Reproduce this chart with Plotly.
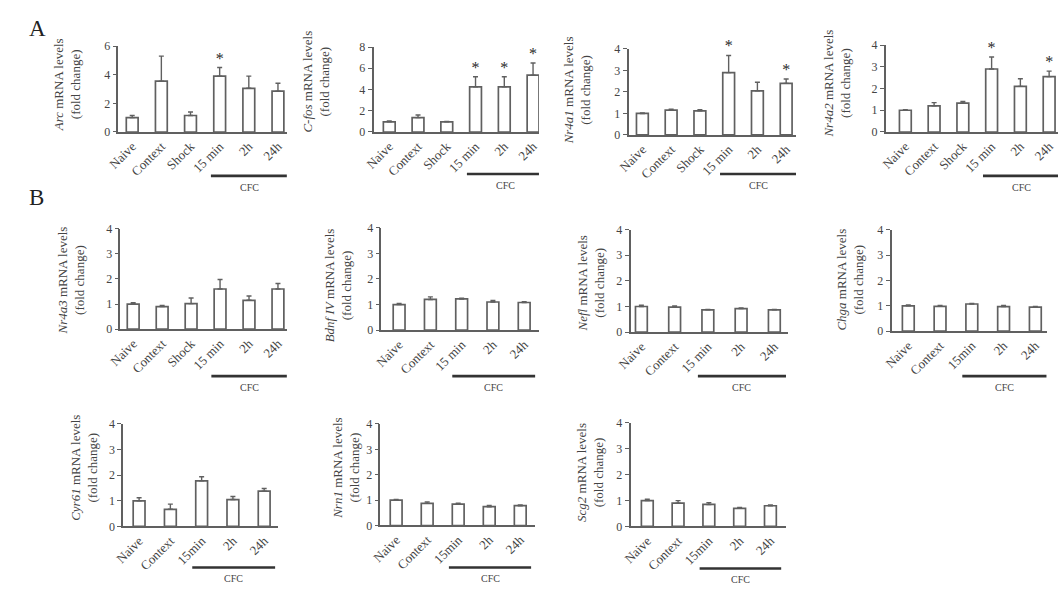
import plotly.graph_objects as go

W, H = 1059, 594

# ---------------- data ----------------
groups_shock = ["Naive", "Context", "Shock", "15 min", "2h", "24h"]
groups_cfc = ["Naive", "Context", "15 min", "2h", "24h"]
groups_cfc2 = ["Naive", "Context", "15min", "2h", "24h"]

genes = ["Arc", "C-fos", "Nr4a1", "Nr4a2", "Nr4a3", "Bdnf IV", "Nefl", "Chga", "Cyr61", "Nrn1", "Scg2"]

arc_mean = [1.0, 3.55, 1.15, 3.9, 3.05, 2.85]
arc_err = [0.15, 1.75, 0.25, 0.6, 0.85, 0.55]
arc_sig = [0, 0, 0, 1, 0, 0]

cfos_mean = [0.95, 1.35, 0.95, 4.25, 4.25, 5.35]
cfos_err = [0.1, 0.25, 0.05, 0.95, 0.95, 1.15]
cfos_sig = [0, 0, 0, 1, 1, 1]

nr4a1_mean = [1.0, 1.15, 1.12, 2.9, 2.05, 2.4]
nr4a1_err = [0.02, 0.05, 0.05, 0.8, 0.4, 0.2]
nr4a1_sig = [0, 0, 0, 1, 0, 1]

nr4a2_mean = [1.0, 1.2, 1.33, 2.9, 2.1, 2.55]
nr4a2_err = [0.03, 0.15, 0.07, 0.55, 0.35, 0.25]
nr4a2_sig = [0, 0, 0, 1, 0, 1]

nr4a3_mean = [1.0, 0.9, 1.02, 1.6, 1.15, 1.6]
nr4a3_err = [0.05, 0.05, 0.22, 0.38, 0.17, 0.22]

bdnf_mean = [1.0, 1.2, 1.22, 1.1, 1.08]
bdnf_err = [0.04, 0.1, 0.03, 0.06, 0.03]

nefl_mean = [1.0, 0.98, 0.87, 0.92, 0.87]
nefl_err = [0.05, 0.04, 0.02, 0.02, 0.02]

chga_mean = [1.0, 0.98, 1.07, 0.97, 0.95]
chga_err = [0.03, 0.03, 0.02, 0.04, 0.02]

cyr61_mean = [1.0, 0.67, 1.78, 1.05, 1.38]
cyr61_err = [0.12, 0.2, 0.16, 0.12, 0.1]

nrn1_mean = [1.0, 0.87, 0.84, 0.74, 0.78]
nrn1_err = [0.03, 0.06, 0.04, 0.05, 0.03]

scg2_mean = [1.0, 0.9, 0.85, 0.7, 0.8]
scg2_err = [0.05, 0.1, 0.07, 0.03, 0.03]

no_sig5 = [0, 0, 0, 0, 0]
no_sig6 = [0, 0, 0, 0, 0, 0]

panels_data = [
    (genes[0], groups_shock, arc_mean, arc_err, arc_sig, 6, 2),
    (genes[1], groups_shock, cfos_mean, cfos_err, cfos_sig, 8, 2),
    (genes[2], groups_shock, nr4a1_mean, nr4a1_err, nr4a1_sig, 4, 1),
    (genes[3], groups_shock, nr4a2_mean, nr4a2_err, nr4a2_sig, 4, 1),
    (genes[4], groups_shock, nr4a3_mean, nr4a3_err, no_sig6, 4, 1),
    (genes[5], groups_cfc, bdnf_mean, bdnf_err, no_sig5, 4, 1),
    (genes[6], groups_cfc, nefl_mean, nefl_err, no_sig5, 4, 1),
    (genes[7], groups_cfc2, chga_mean, chga_err, no_sig5, 4, 1),
    (genes[8], groups_cfc2, cyr61_mean, cyr61_err, no_sig5, 4, 1),
    (genes[9], groups_cfc2, nrn1_mean, nrn1_err, no_sig5, 4, 1),
    (genes[10], groups_cfc2, scg2_mean, scg2_err, no_sig5, 4, 1),
]

# ---------------- geometry (pixels) ----------------
# axis_x, first_bar_x, spacing, end_x, zero_y, top_y, title_x, title_y, cfc_y
geom = [
    (105, 119, 29.6, 276, 128, 40, 53, 80, 173),
    (364, 380, 29.2, 532, 128, 41, 306, 76, 171),
    (623, 637, 29.2, 793, 131, 43, 571, 85, 171),
    (884, 904, 29.2, 1059, 128, 39, 835, 78, 173),
    (107, 120, 29.4, 276, 330, 227, 57, 280, 378),
    (372, 390, 31.75, 532, 331, 226, 328, 285, 378),
    (625, 636, 33.75, 785, 333, 228, 585, 283, 378),
    (890, 907, 32.25, 1048, 332, 228, 848, 279, 378),
    (110, 126, 31.75, 267, 532, 427, 70, 472, 574),
    (371, 387, 31.5, 528, 531, 427, 336, 472, 574),
    (625, 642, 31.25, 783, 532, 426, 584, 477, 575),
]

TXT = "#444444"
LINE = "#606060"
FONT = "Liberation Serif"
BAR_PX = 12

fig = go.Figure()
layout = dict(
    width=W, height=H,
    margin=dict(l=0, r=0, t=0, b=0),
    paper_bgcolor="white", plot_bgcolor="white",
    showlegend=False,
    font=dict(family=FONT, color=TXT),
)
shapes = []
annotations = []

for i, ((gene, cats, mean, err, sig, ymax, dtick), g) in enumerate(zip(panels_data, geom), start=1):
    ax_x, first, sp, end_x, y0, ytop, tx, ty, cfc_y = g
    n = len(cats)
    last = first + (n - 1) * sp
    xr = [-(first - ax_x) / sp, (n - 1) + (end_x - last) / sp]
    xs = list(range(n))
    xa = "x" if i == 1 else f"x{i}"
    ya = "y" if i == 1 else f"y{i}"
    fig.add_trace(go.Bar(
        x=xs, y=mean, xaxis=xa, yaxis=ya,
        width=BAR_PX / sp,
        marker=dict(color="white", line=dict(color=LINE, width=1.7)),
        error_y=dict(type="data", array=err, arrayminus=[0] * n, symmetric=False,
                     color=LINE, thickness=1.4, width=2.5),
        hoverinfo="skip",
    ))
    sx = [x for x, s in zip(xs, sig) if s]
    sy = [m + e for m, e, s in zip(mean, err, sig) if s]
    if sx:
        fig.add_trace(go.Scatter(
            x=sx, y=sy, xaxis=xa, yaxis=ya, mode="text",
            text=["*"] * len(sx), textposition="top center",
            textfont=dict(family=FONT, size=16, color="#2a2a2a"),
            cliponaxis=False, hoverinfo="skip",
        ))
    key = "" if i == 1 else str(i)
    layout[f"xaxis{key}"] = dict(
        domain=[ax_x / W, min(end_x / W, 1.0)], range=xr, anchor=ya,
        tickmode="array", tickvals=xs, ticktext=cats, tickangle=-45,
        tickfont=dict(family=FONT, size=13, color=TXT),
        showline=True, linecolor=LINE, linewidth=1.7, ticks="",
        showgrid=False, zeroline=False, fixedrange=True,
    )
    layout[f"yaxis{key}"] = dict(
        domain=[1 - y0 / H, 1 - ytop / H], range=[0, ymax], anchor=xa,
        dtick=dtick, tick0=0, ticks="outside", ticklen=4, tickcolor=LINE,
        tickwidth=1.4,
        tickfont=dict(family=FONT, size=12, color=TXT),
        showline=True, linecolor=LINE, linewidth=1.7,
        showgrid=False, zeroline=False, fixedrange=True,
    )
    # CFC bar under the conditioned groups
    i15 = cats.index("15 min") if "15 min" in cats else cats.index("15min")
    shapes.append(dict(type="line", xref=xa, yref="paper",
                       x0=i15 - 0.3, x1=(n - 1) + 0.35,
                       y0=1 - cfc_y / H, y1=1 - cfc_y / H,
                       line=dict(color="#333", width=2.6)))
    annotations.append(dict(xref=xa, yref="paper",
                            x=(i15 - 0.3 + (n - 1) + 0.35) / 2, y=1 - (cfc_y + 4) / H,
                            text="CFC", showarrow=False, yanchor="top",
                            font=dict(family=FONT, size=10, color=TXT)))
    # y-axis title
    gname = gene.replace(" IV", "</i> <i>IV") if "IV" in gene else gene
    annotations.append(dict(xref="paper", yref="paper",
                            x=tx / W, y=1 - ty / H, textangle=-90,
                            text=f"<i>{gname}</i> mRNA levels<br>(fold change)",
                            showarrow=False, xanchor="center", yanchor="middle",
                            font=dict(family=FONT, size=13, color=TXT)))

annotations.append(dict(xref="paper", yref="paper", x=23 / W, y=1 - 22 / H, text="A",
                        xanchor="center", yanchor="middle",
                        showarrow=False, font=dict(family=FONT, size=23, color="#222")))
annotations.append(dict(xref="paper", yref="paper", x=22 / W, y=1 - 195 / H, text="B",
                        xanchor="center", yanchor="middle",
                        showarrow=False, font=dict(family=FONT, size=23, color="#222")))

layout["shapes"] = shapes
layout["annotations"] = annotations
fig.update_layout(**layout)
fig.write_html("out.html", config={"displayModeBar": False},
               post_script="document.body.style.margin='0';document.body.style.padding='0';document.body.style.overflow='hidden';")
